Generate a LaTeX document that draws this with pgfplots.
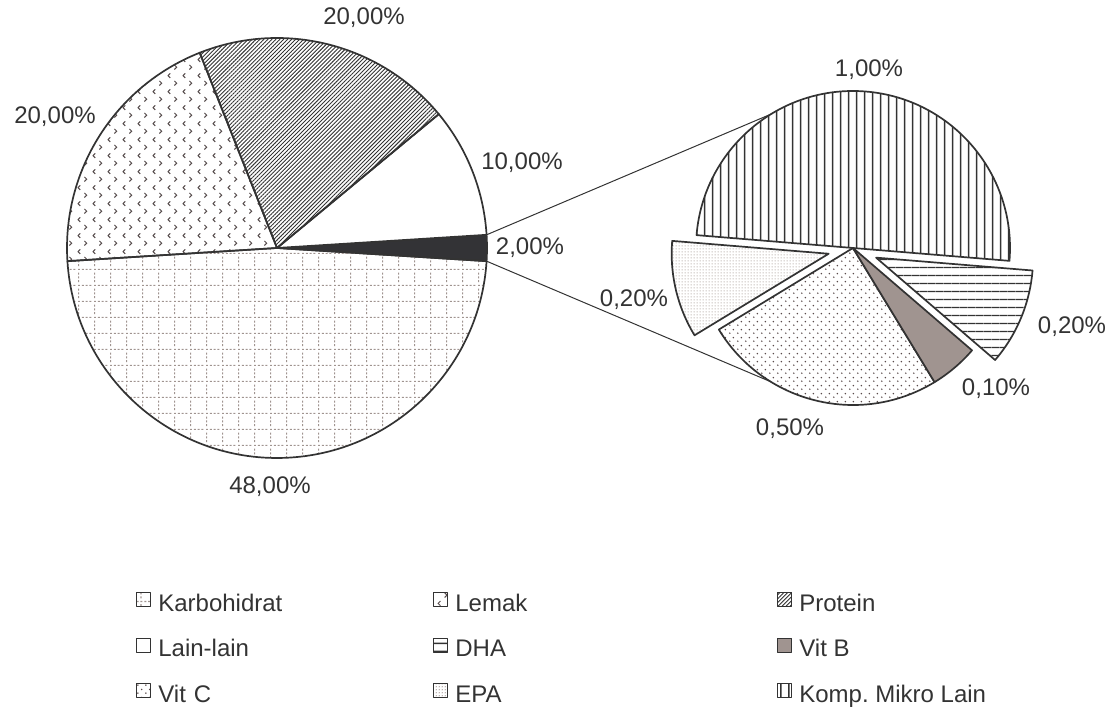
\documentclass[border=0pt]{standalone}
\usepackage{fontspec}
\setmainfont{Liberation Sans}
\usepackage{pgfplots}
\pgfplotsset{compat=1.18}
\usepackage{pgfplotstable}
\usetikzlibrary{patterns,patterns.meta,calc}
\frenchspacing

\definecolor{edge}{HTML}{333333}
\definecolor{txt}{HTML}{333333}
\definecolor{gridc}{RGB}{160,148,144}
\definecolor{chevc}{RGB}{85,75,75}
\definecolor{vitb}{RGB}{160,148,144}
\definecolor{darkslice}{HTML}{333336}
\definecolor{dotc}{RGB}{90,75,75}
\definecolor{finec}{RGB}{165,152,148}

% dashed grid
\pgfdeclarepatternformonly{kgrid}{\pgfpointorigin}{\pgfqpoint{7.8pt}{7.8pt}}{\pgfqpoint{7.8pt}{7.8pt}}{%
  \pgfpathrectangle{\pgfqpoint{0pt}{0pt}}{\pgfqpoint{1pt}{0.6pt}}%
  \pgfpathrectangle{\pgfqpoint{1.95pt}{0pt}}{\pgfqpoint{1pt}{0.6pt}}%
  \pgfpathrectangle{\pgfqpoint{3.9pt}{0pt}}{\pgfqpoint{1pt}{0.6pt}}%
  \pgfpathrectangle{\pgfqpoint{5.85pt}{0pt}}{\pgfqpoint{1pt}{0.6pt}}%
  \pgfpathrectangle{\pgfqpoint{0pt}{1.95pt}}{\pgfqpoint{0.6pt}{1pt}}%
  \pgfpathrectangle{\pgfqpoint{0pt}{3.9pt}}{\pgfqpoint{0.6pt}{1pt}}%
  \pgfpathrectangle{\pgfqpoint{0pt}{5.85pt}}{\pgfqpoint{0.6pt}{1pt}}%
  \pgfusepath{fill}}
% small chevrons
\pgfdeclarepatternformonly{chev}{\pgfpointorigin}{\pgfqpoint{7.5pt}{8pt}}{\pgfqpoint{7.5pt}{8pt}}{%
  \pgfsetlinewidth{0.5pt}%
  \pgfpathmoveto{\pgfqpoint{2.8pt}{7.2pt}}\pgfpathlineto{\pgfqpoint{1.6pt}{6pt}}\pgfpathlineto{\pgfqpoint{2.8pt}{4.8pt}}%
  \pgfpathmoveto{\pgfqpoint{5pt}{3.2pt}}\pgfpathlineto{\pgfqpoint{6.2pt}{2pt}}\pgfpathlineto{\pgfqpoint{5pt}{0.8pt}}%
  \pgfusepath{stroke}}
% staggered dots
\pgfdeclarepatternformonly{sdots}{\pgfpointorigin}{\pgfqpoint{4pt}{4pt}}{\pgfqpoint{4pt}{4pt}}{%
  \pgfpathcircle{\pgfqpoint{1pt}{1pt}}{0.45pt}%
  \pgfpathcircle{\pgfqpoint{3pt}{3pt}}{0.45pt}%
  \pgfusepath{fill}}
% fine dots
\pgfdeclarepatternformonly{fdots}{\pgfpointorigin}{\pgfqpoint{1.5pt}{1.5pt}}{\pgfqpoint{1.5pt}{1.5pt}}{%
  \pgfpathcircle{\pgfqpoint{0.75pt}{0.75pt}}{0.4pt}%
  \pgfusepath{fill}}
% solid horizontal and vertical rules
\pgfdeclarepatternformonly{hrules}{\pgfpointorigin}{\pgfqpoint{4pt}{4pt}}{\pgfqpoint{4pt}{4pt}}{%
  \pgfpathrectangle{\pgfqpoint{-0.2pt}{1.6pt}}{\pgfqpoint{4.4pt}{0.75pt}}%
  \pgfusepath{fill}}
\pgfdeclarepatternformonly{vrules}{\pgfpointorigin}{\pgfqpoint{3.85pt}{3.85pt}}{\pgfqpoint{3.85pt}{3.85pt}}{%
  \pgfpathrectangle{\pgfqpoint{1.55pt}{-0.2pt}}{\pgfqpoint{0.75pt}{4.25pt}}%
  \pgfusepath{fill}}

\tikzset{
  sKarbo/.style={pattern=kgrid, pattern color=gridc},
  sLemak/.style={pattern=chev, pattern color=chevc},
  sProt/.style={pattern={Lines[angle=45,distance=1.4pt,line width=0.45pt]}, pattern color=edge},
  sLain/.style={fill=white},
  sDark/.style={fill=darkslice},
  sKomp/.style={pattern=vrules, pattern color=edge},
  sDHA/.style={pattern=hrules, pattern color=edge},
  sVitB/.style={fill=vitb},
  sVitC/.style={pattern=sdots, pattern color=dotc},
  sEPA/.style={pattern=fdots, pattern color=finec},
  slice/.style={draw=edge, line width=0.85pt, line join=round},
  lbl/.style={font=\fontsize{12pt}{14pt}\selectfont, text=txt, inner sep=0pt},
}

\pgfkeys{/pgf/number format/.cd, fixed, fixed zerofill, precision=2, use comma, assume math mode=true}

% composition (%), main pie counter-clockwise from the "other" slice
\pgfplotstableread{
name        value  lx    ly
Lainnya     2      530   479
Lain-lain   10     522   564
Protein     20     364   709
Lemak       20     55    610
Karbohidrat 48     270   240
}\mainpie

% split of the "other" slice, counter-clockwise
\pgfplotstableread{
name   value  explode  lx    ly
Komp   1.00   0        869   657
EPA    0.20   25       634   427
VitC   0.50   0        790   298
VitB   0.10   0        996   338
DHA    0.20   25       1072  400
}\subpie

% geometry (axis units = px)
\def\mcx{277}\def\mcy{479}\def\mr{105pt}
\def\scx{853}\def\scy{479}\def\sr{78.5pt}
\def\sstart{-4.7}

% main pie angles
\pgfplotstablegetelem{0}{value}\of\mainpie
\pgfmathsetmacro\tmp{-1.8*\pgfplotsretval}\xdef\cum{\tmp}
\pgfplotstableforeachcolumnelement{value}\of\mainpie\as\v{%
  \pgfmathsetmacro\tmpB{\cum+3.6*\v}%
  \expandafter\xdef\csname mS\pgfplotstablerow\endcsname{\cum}%
  \expandafter\xdef\csname mE\pgfplotstablerow\endcsname{\tmpB}%
  \expandafter\xdef\csname mV\pgfplotstablerow\endcsname{\v}%
  \xdef\cum{\tmpB}}
\pgfplotstableforeachcolumnelement{lx}\of\mainpie\as\v{%
  \expandafter\xdef\csname mX\pgfplotstablerow\endcsname{\v}}
\pgfplotstableforeachcolumnelement{ly}\of\mainpie\as\v{%
  \expandafter\xdef\csname mY\pgfplotstablerow\endcsname{\v}}

% secondary pie angles
\xdef\tot{0}
\pgfplotstableforeachcolumnelement{value}\of\subpie\as\v{%
  \pgfmathsetmacro\tmp{\tot+\v}\xdef\tot{\tmp}}
\xdef\cum{\sstart}
\pgfplotstableforeachcolumnelement{value}\of\subpie\as\v{%
  \pgfmathsetmacro\tmpB{\cum+360*\v/\tot}%
  \expandafter\xdef\csname sS\pgfplotstablerow\endcsname{\cum}%
  \expandafter\xdef\csname sE\pgfplotstablerow\endcsname{\tmpB}%
  \expandafter\xdef\csname sV\pgfplotstablerow\endcsname{\v}%
  \xdef\cum{\tmpB}}
\pgfplotstableforeachcolumnelement{explode}\of\subpie\as\v{%
  \pgfmathsetmacro\mid{(\csname sS\pgfplotstablerow\endcsname+\csname sE\pgfplotstablerow\endcsname)/2}%
  \pgfmathsetmacro\cx{\scx+\v*cos(\mid)}%
  \pgfmathsetmacro\cy{\scy+\v*sin(\mid)}%
  \expandafter\xdef\csname sCX\pgfplotstablerow\endcsname{\cx}%
  \expandafter\xdef\csname sCY\pgfplotstablerow\endcsname{\cy}}
\pgfplotstableforeachcolumnelement{lx}\of\subpie\as\v{%
  \expandafter\xdef\csname sX\pgfplotstablerow\endcsname{\v}}
\pgfplotstableforeachcolumnelement{ly}\of\subpie\as\v{%
  \expandafter\xdef\csname sY\pgfplotstablerow\endcsname{\v}}

\newcommand\q[2]{\csname #1#2\endcsname}
\newcommand\mslice[2]{% row, style
  \filldraw[slice,#2] (axis cs:\mcx,\mcy) -- ++(\q{mS}{#1}:\mr)
    arc[start angle=\q{mS}{#1}, end angle=\q{mE}{#1}, radius=\mr] -- cycle;
  \node[lbl] at (axis cs:\q{mX}{#1},\q{mY}{#1}) {\pgfmathprintnumber{\q{mV}{#1}}\%};}
\newcommand\sslice[2]{% row, style
  \filldraw[slice,#2] (axis cs:\q{sCX}{#1},\q{sCY}{#1}) -- ++(\q{sS}{#1}:\sr)
    arc[start angle=\q{sS}{#1}, end angle=\q{sE}{#1}, radius=\sr] -- cycle;
  \node[lbl] at (axis cs:\q{sX}{#1},\q{sY}{#1}) {\pgfmathprintnumber{\q{sV}{#1}}\%};}

\begin{document}
\begin{tikzpicture}
\begin{axis}[
  x=0.5pt, y=0.5pt,
  xmin=0, xmax=1108, ymin=0, ymax=727,
  hide axis, clip=false,
  legend columns=3,
  legend cell align=left,
  legend image code/.code={\draw[slice, line width=0.5pt, #1] (0pt,-0.7pt) rectangle (7pt,6.3pt);},
  legend style={draw=none, fill=none, at={(0.1227,0.1862)}, anchor=north west,
    font=\fontsize{12pt}{14pt}\selectfont, text=txt, inner sep=0pt, row sep=10.25pt,
    nodes={inner sep=0pt, text height=9pt, text depth=3pt},
    /tikz/every odd column/.append style={column sep=3.5pt}},
]
% full chart frame
\path (axis cs:0,0) rectangle (axis cs:1108,727);
% connector lines between the two pies
\draw[edge, line width=0.5pt]
  ($(axis cs:\mcx,\mcy)+(\q{mE}{0}:\mr)$) -- ($(axis cs:\scx,\scy)+(121.5:\sr)$);
\draw[edge, line width=0.5pt]
  ($(axis cs:\mcx,\mcy)+(\q{mS}{0}:\mr)$) -- ($(axis cs:\scx,\scy)+(-121.5:\sr)$);

\mslice{0}{sDark}
\mslice{1}{sLain}
\mslice{2}{sProt}
\mslice{3}{sLemak}
\mslice{4}{sKarbo}

\sslice{0}{sKomp}
\sslice{1}{sEPA}
\sslice{2}{sVitC}
\sslice{3}{sVitB}
\sslice{4}{sDHA}

\addlegendimage{sKarbo}\addlegendentry[text width=137.5pt]{Karbohidrat}
\addlegendimage{sLemak}\addlegendentry[text width=161pt]{Lemak}
\addlegendimage{sProt}\addlegendentry{Protein}
\addlegendimage{sLain}\addlegendentry[text width=137.5pt]{Lain-lain}
\addlegendimage{sDHA}\addlegendentry[text width=161pt]{DHA}
\addlegendimage{sVitB}\addlegendentry{Vit B}
\addlegendimage{sVitC}\addlegendentry[text width=137.5pt]{Vit C}
\addlegendimage{sEPA}\addlegendentry[text width=161pt]{EPA}
\addlegendimage{sKomp}\addlegendentry{Komp. Mikro Lain}
\end{axis}
\end{tikzpicture}
\end{document}
